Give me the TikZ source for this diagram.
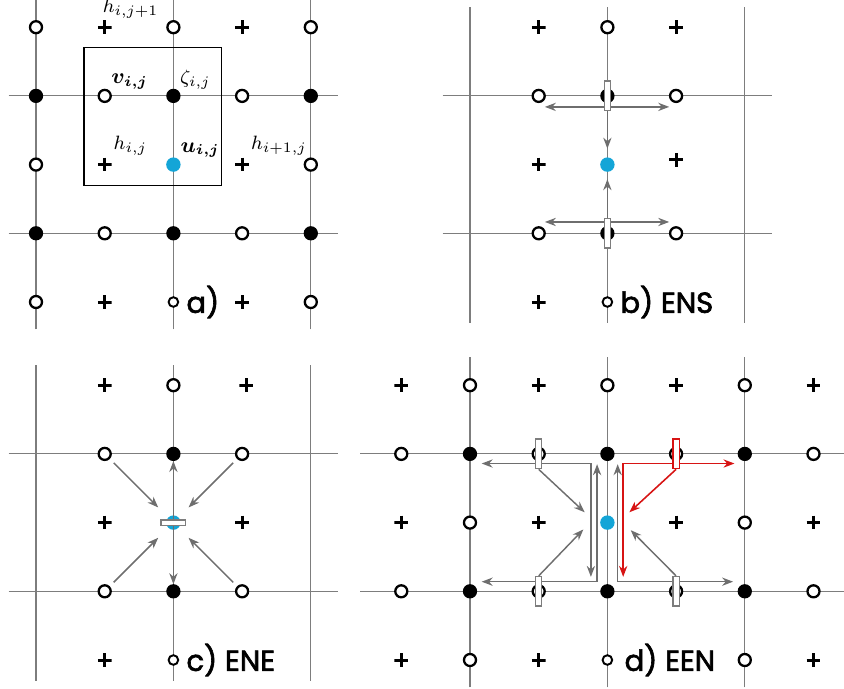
\documentclass[tikz,border=0pt]{standalone}
\usepackage{amsmath}
\usepackage{fontspec}
\newfontfamily\panelfont[FakeBold=2.2]{Poppins}
\usetikzlibrary{arrows.meta}
\definecolor{ublue}{RGB}{20,165,215}
\definecolor{gridgray}{RGB}{125,125,125}
\definecolor{arrgray}{RGB}{110,110,110}
\definecolor{arrred}{RGB}{215,20,20}
\begin{document}
\begin{tikzpicture}[
	gridline/.style={draw=gridgray,line width=0.45pt},
	opn/.style={circle,draw=black,fill=white,line width=0.95pt,minimum size=0.175cm,inner sep=0pt},
	fil/.style={circle,draw=black,fill=black,line width=0.5pt,minimum size=0.19cm,inner sep=0pt},
	sml/.style={circle,draw=black,fill=white,line width=0.8pt,minimum size=0.14cm,inner sep=0pt},
	uu/.style={circle,fill=ublue,minimum size=0.21cm,inner sep=0pt},
	pls/.style={minimum size=0.2cm,inner sep=0pt,path picture={\draw[line width=1.25pt] (path picture bounding box.north) -- (path picture bounding box.south) (path picture bounding box.west) -- (path picture bounding box.east);}},
	vbar/.style={rectangle,draw=gridgray,fill=white,line width=0.55pt,minimum width=0.09cm,minimum height=0.43cm,inner sep=0pt},
	hbar/.style={rectangle,draw=gridgray,fill=white,line width=0.55pt,minimum width=0.36cm,minimum height=0.08cm,inner sep=0pt},
	arr/.style={draw=arrgray,line width=0.6pt,-{Stealth[length=1.6mm,width=1.2mm]}},
	darr/.style={draw=arrgray,line width=0.6pt,{Stealth[length=1.6mm,width=1.2mm]}-{Stealth[length=1.6mm,width=1.2mm]}},
	rarr/.style={draw=arrred,line width=0.65pt,-{Stealth[length=1.6mm,width=1.2mm]}},
	rdarr/.style={draw=arrred,line width=0.65pt,{Stealth[length=1.6mm,width=1.2mm]}-{Stealth[length=1.6mm,width=1.2mm]}},
	hlbl/.style={font=\footnotesize,inner sep=0.5pt},
	blbl/.style={font=\small,inner sep=0.5pt},
	lbl/.style={font=\panelfont\fontsize{12}{12}\selectfont,anchor=west,inner sep=0pt}
]
	\useasboundingbox (-0.524,-5.619) rectangle (11.761,4.396);
	% a)
	\draw[gridline] (0,-0.4) -- (0,4.4);
	\draw[gridline] (2,-0.4) -- (2,4.4);
	\draw[gridline] (4,-0.4) -- (4,4.4);
	\draw[gridline] (-0.4,3) -- (4.4,3);
	\draw[gridline] (-0.4,1) -- (4.4,1);
	\draw[line width=0.5pt] (0.7,1.7) rectangle (2.7,3.7);
	\node[opn] (a04) at (0,4) {};
	\node[pls,label={[hlbl,xshift=-0.16cm]north east:$h_{i,j+1}$}] (a14) at (1,4) {};
	\node[opn] (a24) at (2,4) {};
	\node[pls] (a34) at (3,4) {};
	\node[opn] (a44) at (4,4) {};
	\node[fil] (a03) at (0,3) {};
	\node[opn,label={[blbl]north east:$\boldsymbol{v_{i,j}}$}] (a13) at (1,3) {};
	\node[fil,label={[hlbl]north east:$\zeta_{i,j}$}] (a23) at (2,3) {};
	\node[opn] (a33) at (3,3) {};
	\node[fil] (a43) at (4,3) {};
	\node[opn] (a02) at (0,2) {};
	\node[pls,label={[hlbl]north east:$h_{i,j}$}] (a12) at (1,2) {};
	\node[uu,label={[blbl]north east:$\boldsymbol{u_{i,j}}$}] (a22) at (2,2) {};
	\node[pls,label={[hlbl]north east:$h_{i+1,j}$}] (a32) at (3,2) {};
	\node[opn] (a42) at (4,2) {};
	\node[fil] (a01) at (0,1) {};
	\node[opn] (a11) at (1,1) {};
	\node[fil] (a21) at (2,1) {};
	\node[opn] (a31) at (3,1) {};
	\node[fil] (a41) at (4,1) {};
	\node[opn] (a00) at (0,0) {};
	\node[pls] (a10) at (1,0) {};
	\node[sml] (a20) at (2,0) {};
	\node[pls] (a30) at (3,0) {};
	\node[opn] (a40) at (4,0) {};
	\node[lbl] (alab) at ([xshift=0.1cm]a20.east) {a)};
	% b) ENS
	\begin{scope}[shift={(6.317,0)}]
		\draw[gridline] (0,-0.3) -- (0,4.3);
		\draw[gridline] (2,-0.3) -- (2,4.3);
		\draw[gridline] (4,-0.3) -- (4,4.3);
		\draw[gridline] (-0.4,3) -- (4.4,3);
		\draw[gridline] (-0.4,1) -- (4.4,1);
		\node[pls] (b14) at (1,4) {};
		\node[opn] (b24) at (2,4) {};
		\node[pls] (b34) at (3,4) {};
		\node[opn] (b13) at (1,3) {};
		\node[fil] (b23) at (2,3) {};
		\node[opn] (b33) at (3,3) {};
		\node[pls] (b12) at (1,2) {};
		\node[uu] (b22) at (2,2) {};
		\node[pls] (b32) at (3,2.07) {};
		\node[opn] (b11) at (1,1) {};
		\node[fil] (b21) at (2,1) {};
		\node[opn] (b31) at (3,1) {};
		\node[pls] (b10) at (1,0) {};
		\node[sml] (b20) at (2,0) {};
		\node[lbl] (blab) at ([xshift=0.1cm]b20.east) {b) ENS};
		\draw[darr] ([shift={(0.09,-0.16)}]b13.center) -- ([shift={(-0.1,-0.16)}]b33.center);
		\draw[darr] ([shift={(0.09,0.165)}]b11.center) -- ([shift={(-0.1,0.165)}]b31.center);
		\node[vbar] (bt) at (b23) {};
		\node[vbar] (bb) at (b21) {};
		\draw[arr,shorten >=0.12cm] (bt) -- (b22);
		\draw[arr,shorten >=0.1cm] (bb) -- (b22);
	\end{scope}
	% c) ENE
	\begin{scope}[shift={(0,-5.211)}]
		\draw[gridline] (0,-0.3) -- (0,4.3);
		\draw[gridline] (2,-0.3) -- (2,4.3);
		\draw[gridline] (4,-0.3) -- (4,4.3);
		\draw[gridline] (-0.4,3) -- (4.4,3);
		\draw[gridline] (-0.4,1) -- (4.4,1);
		\node[pls] (c14) at (1,4) {};
		\node[opn] (c24) at (2,4) {};
		\node[pls] (c34) at (3.06,4) {};
		\node[opn] (c13) at (1,3) {};
		\node[fil] (c23) at (2,3) {};
		\node[opn] (c33) at (3,3) {};
		\node[pls] (c12) at (1,2) {};
		\node[uu] (c22) at (2,2) {};
		\node[pls] (c32) at (3,2) {};
		\node[opn] (c11) at (1,1) {};
		\node[fil] (c21) at (2,1) {};
		\node[opn] (c31) at (3,1) {};
		\node[pls] (c10) at (1,0) {};
		\node[sml] (c20) at (2,0) {};
		\node[lbl] (clab) at ([xshift=0.1cm]c20.east) {c) ENE};
		\node[hbar] (cr) at (c22) {};
		\draw[arr,shorten <=0.08cm,shorten >=0.2cm] (c13) -- (c22);
		\draw[arr,shorten <=0.08cm,shorten >=0.2cm] (c33) -- (c22);
		\draw[arr,shorten <=0.08cm,shorten >=0.2cm] (c11) -- (c22);
		\draw[arr,shorten <=0.08cm,shorten >=0.2cm] (c31) -- (c22);
		\draw[arr] (cr) -- (c23);
		\draw[arr] (cr) -- (c21);
	\end{scope}
	% d) EEN
	\begin{scope}[shift={(6.317,-5.211)}]
		\draw[gridline] (0,-0.4) -- (0,4.41);
		\draw[gridline] (2,-0.4) -- (2,4.41);
		\draw[gridline] (4,-0.4) -- (4,4.41);
		\draw[gridline] (-1.6,3) -- (5.44,3);
		\draw[gridline] (-1.6,1) -- (5.44,1);
		\node[pls] (dL4) at (-1,4) {};
		\node[opn] (d04) at (0,4) {};
		\node[pls] (d14) at (1,4) {};
		\node[opn] (d24) at (2,4) {};
		\node[pls] (d34) at (3,4) {};
		\node[opn] (d44) at (4,4) {};
		\node[pls] (dR4) at (5,4) {};
		\node[opn] (dL3) at (-1,3) {};
		\node[fil] (d03) at (0,3) {};
		\node[opn] (d13) at (1,3) {};
		\node[fil] (d23) at (2,3) {};
		\node[opn] (d33) at (3,3) {};
		\node[fil] (d43) at (4,3) {};
		\node[opn] (dR3) at (5,3) {};
		\node[pls] (dL2) at (-1,2) {};
		\node[opn] (d02) at (0,2) {};
		\node[pls] (d12) at (1,2) {};
		\node[uu] (d22) at (2,2) {};
		\node[pls] (d32) at (3,2) {};
		\node[opn] (d42) at (4,2) {};
		\node[pls] (dR2) at (5,2) {};
		\node[opn] (dL1) at (-1,1) {};
		\node[fil] (d01) at (0,1) {};
		\node[opn] (d11) at (1,1) {};
		\node[fil] (d21) at (2,1) {};
		\node[opn] (d31) at (3,1) {};
		\node[fil] (d41) at (4,1) {};
		\node[opn] (dR1) at (5,1) {};
		\node[pls] (dL0) at (-1,0) {};
		\node[opn] (d00) at (0,0) {};
		\node[pls] (d10) at (1,0) {};
		\node[sml] (d20) at (2,0) {};
		\node[opn] (d40) at (4,0) {};
		\node[pls] (dR0) at (5,0) {};
		\node[lbl] (dlab) at ([xshift=0.16cm]d20.east) {d) EEN};
		\draw[darr] ([shift={(0.17,-0.14)}]d03.center) -| ([shift={(-0.24,0.21)}]d21.center);
		\draw[darr] ([shift={(0.17,0.14)}]d01.center) -| ([shift={(-0.15,-0.15)}]d23.center);
		\draw[darr] ([shift={(0.15,-0.15)}]d23.center) |- ([shift={(-0.17,0.14)}]d41.center);
		\draw[rdarr] ([shift={(0.23,0.21)}]d21.center) |- ([shift={(-0.15,-0.14)}]d43.center);
		\node[vbar] (dtl) at (d13) {};
		\node[vbar,draw=arrred] (dtr) at (d33) {};
		\node[vbar] (dbl) at (d11) {};
		\node[vbar] (dbr) at (d31) {};
		\draw[arr] (dtl.south) -- ([shift={(-0.33,0.15)}]d22.center);
		\draw[arr] (dbl.north) -- ([shift={(-0.35,-0.1)}]d22.center);
		\draw[rarr] (dtr.south) -- ([shift={(0.32,0.15)}]d22.center);
		\draw[arr] (dbr.north) -- ([shift={(0.34,-0.11)}]d22.center);
	\end{scope}
\end{tikzpicture}
\end{document}
